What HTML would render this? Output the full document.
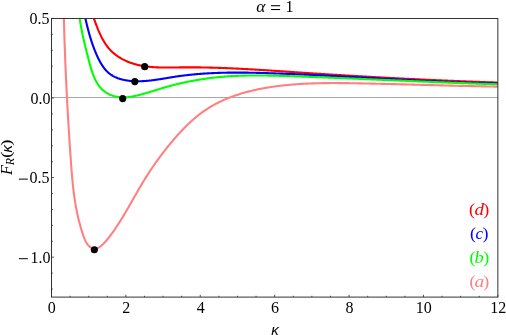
<!DOCTYPE html>
<html><head><meta charset="utf-8"><title>plot</title>
<style>
html,body{margin:0;padding:0;background:#fff;overflow:hidden;}
svg{display:block;will-change:transform;}
text{font-family:"Liberation Serif",serif;font-size:16px;fill:#000;}
</style></head><body>
<svg width="506" height="335" viewBox="0 0 506 335">
<rect width="506" height="335" fill="#fff"/>
<line x1="51.5" y1="97.5" x2="497.85" y2="97.5" stroke="#a8a8a8" stroke-width="1"/>
<clipPath id="cp"><rect x="51.5" y="18.5" width="446.35" height="278.6"/></clipPath>
<g clip-path="url(#cp)" fill="none" stroke-width="2.1" stroke-linejoin="round">
<path d="M90.28,8.02 L90.47,8.54 L90.65,9.06 L90.84,9.58 L91.02,10.11 L91.20,10.63 L91.39,11.15 L91.57,11.68 L91.75,12.20 L91.94,12.73 L92.12,13.25 L92.30,13.78 L92.48,14.31 L92.66,14.84 L92.85,15.36 L93.03,15.89 L93.21,16.42 L93.40,16.95 L93.58,17.48 L93.76,18.01 L93.95,18.53 L94.13,19.06 L94.32,19.59 L94.51,20.12 L94.69,20.65 L94.88,21.18 L95.07,21.71 L95.26,22.23 L95.45,22.76 L95.65,23.29 L95.84,23.81 L96.04,24.34 L96.23,24.86 L96.43,25.39 L96.63,25.91 L96.83,26.44 L97.04,26.96 L97.24,27.48 L97.45,28.00 L97.66,28.52 L97.87,29.04 L98.08,29.56 L98.30,30.07 L98.51,30.59 L98.73,31.10 L98.96,31.62 L99.18,32.13 L99.41,32.64 L99.64,33.15 L99.87,33.66 L100.10,34.16 L100.34,34.67 L100.58,35.17 L100.82,35.67 L101.07,36.17 L101.32,36.67 L101.57,37.16 L101.82,37.66 L102.08,38.15 L102.35,38.64 L102.61,39.13 L102.88,39.62 L103.15,40.10 L103.43,40.58 L103.71,41.06 L103.99,41.54 L104.28,42.02 L104.57,42.49 L104.86,42.96 L105.16,43.43 L105.47,43.89 L105.77,44.35 L106.09,44.81 L106.41,45.27 L106.73,45.72 L107.06,46.17 L107.39,46.61 L107.73,47.05 L108.08,47.49 L108.43,47.92 L108.78,48.35 L109.15,48.77 L109.51,49.19 L109.89,49.60 L110.27,50.01 L110.66,50.42 L111.06,50.82 L111.46,51.21 L111.86,51.60 L112.28,51.98 L112.69,52.36 L113.12,52.74 L113.55,53.11 L113.98,53.47 L114.42,53.83 L114.86,54.19 L115.31,54.53 L115.76,54.88 L116.22,55.22 L116.67,55.55 L117.14,55.88 L117.60,56.20 L118.07,56.52 L118.55,56.83 L119.02,57.14 L119.50,57.44 L119.98,57.73 L120.46,58.02 L120.95,58.31 L121.44,58.59 L121.92,58.86 L122.41,59.13 L122.91,59.39 L123.40,59.65 L123.89,59.90 L124.39,60.15 L124.89,60.39 L125.39,60.63 L125.89,60.86 L126.39,61.09 L126.89,61.31 L127.40,61.53 L127.90,61.74 L128.41,61.94 L128.92,62.15 L129.43,62.34 L129.94,62.53 L130.45,62.72 L130.96,62.91 L131.48,63.08 L132.00,63.26 L132.51,63.43 L133.03,63.59 L133.55,63.75 L134.07,63.91 L134.59,64.06 L135.12,64.21 L135.64,64.35 L136.17,64.49 L136.69,64.63 L137.22,64.76 L137.75,64.89 L138.28,65.02 L138.81,65.14 L139.34,65.25 L139.87,65.37 L140.41,65.48 L140.94,65.58 L141.48,65.69 L142.01,65.78 L142.55,65.88 L143.09,65.97 L143.63,66.06 L144.17,66.15 L144.71,66.23 L145.25,66.31 L145.80,66.39 L146.34,66.46 L146.88,66.53 L147.43,66.60 L147.98,66.66 L148.52,66.72 L149.07,66.78 L149.62,66.84 L150.17,66.89 L150.72,66.95 L151.27,66.99 L151.82,67.04 L152.37,67.09 L152.92,67.13 L153.48,67.17 L154.03,67.20 L154.58,67.24 L155.14,67.27 L155.70,67.30 L156.25,67.33 L156.81,67.36 L157.37,67.38 L157.92,67.40 L158.48,67.42 L159.04,67.44 L159.60,67.46 L160.16,67.48 L160.72,67.49 L161.28,67.50 L161.84,67.52 L162.40,67.52 L162.96,67.53 L163.52,67.54 L164.09,67.55 L164.65,67.55 L165.21,67.55 L165.78,67.56 L166.34,67.56 L166.90,67.56 L167.47,67.56 L168.03,67.56 L168.60,67.55 L169.16,67.55 L169.73,67.55 L170.29,67.54 L170.86,67.54 L171.42,67.53 L171.99,67.52 L172.55,67.52 L173.12,67.51 L173.69,67.50 L174.25,67.49 L174.82,67.49 L175.39,67.48 L175.95,67.47 L176.52,67.46 L177.08,67.45 L177.65,67.45 L178.22,67.44 L178.78,67.43 L179.35,67.42 L179.92,67.41 L180.48,67.41 L181.05,67.40 L181.61,67.39 L182.18,67.39 L182.75,67.38 L183.31,67.37 L183.88,67.37 L184.44,67.37 L185.01,67.36 L185.57,67.36 L186.14,67.35 L186.70,67.35 L187.27,67.35 L187.83,67.35 L188.40,67.35 L188.96,67.35 L189.53,67.35 L190.09,67.35 L190.65,67.35 L191.22,67.35 L191.78,67.35 L192.35,67.35 L192.91,67.35 L193.47,67.35 L194.04,67.36 L194.60,67.36 L195.16,67.36 L195.73,67.37 L196.29,67.37 L196.85,67.38 L197.42,67.38 L197.98,67.39 L198.54,67.39 L199.10,67.40 L199.67,67.41 L200.23,67.41 L200.79,67.42 L201.35,67.43 L201.91,67.44 L202.48,67.45 L203.04,67.46 L203.60,67.47 L204.16,67.48 L204.72,67.49 L205.29,67.50 L205.85,67.51 L206.41,67.52 L206.97,67.53 L207.53,67.54 L208.09,67.55 L208.65,67.57 L209.21,67.58 L209.77,67.59 L210.34,67.61 L210.90,67.62 L211.46,67.63 L212.02,67.65 L212.58,67.66 L213.14,67.68 L213.70,67.70 L214.26,67.71 L214.82,67.73 L215.38,67.74 L215.94,67.76 L216.50,67.78 L217.06,67.80 L217.62,67.81 L218.18,67.83 L218.74,67.85 L219.30,67.87 L219.86,67.89 L220.42,67.91 L220.98,67.93 L221.54,67.95 L222.09,67.97 L222.65,67.99 L223.21,68.01 L223.77,68.03 L224.33,68.05 L224.89,68.07 L225.45,68.09 L226.01,68.12 L226.57,68.14 L227.12,68.16 L227.68,68.18 L228.24,68.21 L228.80,68.23 L229.36,68.26 L229.92,68.28 L230.47,68.30 L231.03,68.33 L231.59,68.35 L232.15,68.38 L232.71,68.40 L233.27,68.43 L233.82,68.45 L234.38,68.48 L234.94,68.51 L235.50,68.53 L236.05,68.56 L236.61,68.59 L237.17,68.61 L237.73,68.64 L238.28,68.67 L238.84,68.70 L239.40,68.72 L239.96,68.75 L240.51,68.78 L241.07,68.81 L241.63,68.84 L242.19,68.87 L242.74,68.90 L243.30,68.93 L243.86,68.96 L244.41,68.99 L244.97,69.02 L245.53,69.05 L246.09,69.08 L246.64,69.11 L247.20,69.14 L247.76,69.17 L248.31,69.20 L248.87,69.23 L249.43,69.26 L249.98,69.29 L250.54,69.33 L251.10,69.36 L251.65,69.39 L252.21,69.42 L252.77,69.46 L253.32,69.49 L253.88,69.52 L254.44,69.55 L254.99,69.59 L255.55,69.62 L256.10,69.65 L256.66,69.69 L257.22,69.72 L257.77,69.76 L258.33,69.79 L258.89,69.82 L259.44,69.86 L260.00,69.89 L260.55,69.93 L261.11,69.96 L261.67,70.00 L262.22,70.03 L262.78,70.07 L263.33,70.10 L263.89,70.14 L264.45,70.17 L265.00,70.21 L265.56,70.24 L266.12,70.28 L266.67,70.31 L267.23,70.35 L267.78,70.39 L268.34,70.42 L268.89,70.46 L269.45,70.49 L270.01,70.53 L270.56,70.57 L271.12,70.60 L271.67,70.64 L272.23,70.68 L272.79,70.71 L273.34,70.75 L273.90,70.79 L274.45,70.82 L275.01,70.86 L275.57,70.90 L276.12,70.93 L276.68,70.97 L277.23,71.01 L277.79,71.05 L278.35,71.08 L278.90,71.12 L279.46,71.16 L280.01,71.20 L280.57,71.23 L281.12,71.27 L281.68,71.31 L282.24,71.35 L282.79,71.38 L283.35,71.42 L283.90,71.46 L284.46,71.50 L285.02,71.53 L285.57,71.57 L286.13,71.61 L286.68,71.65 L287.24,71.69 L287.80,71.72 L288.35,71.76 L288.91,71.80 L289.46,71.84 L290.02,71.87 L290.58,71.91 L291.13,71.95 L291.69,71.99 L292.25,72.03 L292.80,72.06 L293.36,72.10 L293.91,72.14 L294.47,72.18 L295.03,72.22 L295.58,72.25 L296.14,72.29 L296.70,72.33 L297.25,72.37 L297.81,72.40 L298.36,72.44 L298.92,72.48 L299.48,72.52 L300.03,72.55 L300.59,72.59 L301.15,72.63 L301.70,72.67 L302.26,72.70 L302.82,72.74 L303.37,72.78 L303.93,72.82 L304.49,72.85 L305.04,72.89 L305.60,72.93 L306.16,72.96 L306.71,73.00 L307.27,73.04 L307.83,73.07 L308.39,73.11 L308.94,73.15 L309.50,73.18 L310.06,73.22 L310.61,73.26 L311.17,73.29 L311.73,73.33 L312.29,73.37 L312.84,73.40 L313.40,73.44 L313.96,73.48 L314.51,73.51 L315.07,73.55 L315.63,73.58 L316.19,73.62 L316.74,73.66 L317.30,73.69 L317.86,73.73 L318.42,73.76 L318.97,73.80 L319.53,73.84 L320.09,73.87 L320.65,73.91 L321.20,73.94 L321.76,73.98 L322.32,74.01 L322.88,74.05 L323.43,74.09 L323.99,74.12 L324.55,74.16 L325.11,74.19 L325.67,74.23 L326.22,74.26 L326.78,74.30 L327.34,74.33 L327.90,74.37 L328.46,74.40 L329.01,74.44 L329.57,74.47 L330.13,74.51 L330.69,74.54 L331.25,74.58 L331.80,74.61 L332.36,74.65 L332.92,74.68 L333.48,74.71 L334.04,74.75 L334.59,74.78 L335.15,74.82 L335.71,74.85 L336.27,74.89 L336.83,74.92 L337.39,74.96 L337.94,74.99 L338.50,75.02 L339.06,75.06 L339.62,75.09 L340.18,75.13 L340.74,75.16 L341.29,75.19 L341.85,75.23 L342.41,75.26 L342.97,75.29 L343.53,75.33 L344.09,75.36 L344.64,75.39 L345.20,75.43 L345.76,75.46 L346.32,75.50 L346.88,75.53 L347.44,75.56 L348.00,75.59 L348.55,75.63 L349.11,75.66 L349.67,75.69 L350.23,75.73 L350.79,75.76 L351.35,75.79 L351.91,75.83 L352.47,75.86 L353.02,75.89 L353.58,75.92 L354.14,75.96 L354.70,75.99 L355.26,76.02 L355.82,76.05 L356.38,76.09 L356.94,76.12 L357.50,76.15 L358.05,76.18 L358.61,76.22 L359.17,76.25 L359.73,76.28 L360.29,76.31 L360.85,76.34 L361.41,76.38 L361.97,76.41 L362.53,76.44 L363.09,76.47 L363.64,76.50 L364.20,76.54 L364.76,76.57 L365.32,76.60 L365.88,76.63 L366.44,76.66 L367.00,76.69 L367.56,76.73 L368.12,76.76 L368.68,76.79 L369.24,76.82 L369.79,76.85 L370.35,76.88 L370.91,76.91 L371.47,76.94 L372.03,76.97 L372.59,77.01 L373.15,77.04 L373.71,77.07 L374.27,77.10 L374.83,77.13 L375.39,77.16 L375.95,77.19 L376.51,77.22 L377.06,77.25 L377.62,77.28 L378.18,77.31 L378.74,77.34 L379.30,77.37 L379.86,77.40 L380.42,77.43 L380.98,77.46 L381.54,77.49 L382.10,77.52 L382.66,77.55 L383.22,77.58 L383.78,77.61 L384.34,77.64 L384.89,77.67 L385.45,77.70 L386.01,77.73 L386.57,77.76 L387.13,77.79 L387.69,77.82 L388.25,77.85 L388.81,77.88 L389.37,77.91 L389.93,77.94 L390.49,77.97 L391.05,78.00 L391.61,78.03 L392.17,78.06 L392.73,78.08 L393.29,78.11 L393.85,78.14 L394.40,78.17 L394.96,78.20 L395.52,78.23 L396.08,78.26 L396.64,78.29 L397.20,78.31 L397.76,78.34 L398.32,78.37 L398.88,78.40 L399.44,78.43 L400.00,78.46 L400.56,78.48 L401.12,78.51 L401.68,78.54 L402.24,78.57 L402.80,78.60 L403.36,78.63 L403.91,78.65 L404.47,78.68 L405.03,78.71 L405.59,78.74 L406.15,78.76 L406.71,78.79 L407.27,78.82 L407.83,78.85 L408.39,78.88 L408.95,78.90 L409.51,78.93 L410.07,78.96 L410.63,78.98 L411.19,79.01 L411.75,79.04 L412.31,79.07 L412.87,79.09 L413.42,79.12 L413.98,79.15 L414.54,79.17 L415.10,79.20 L415.66,79.23 L416.22,79.25 L416.78,79.28 L417.34,79.31 L417.90,79.33 L418.46,79.36 L419.02,79.39 L419.58,79.41 L420.14,79.44 L420.70,79.47 L421.26,79.49 L421.81,79.52 L422.37,79.55 L422.93,79.57 L423.49,79.60 L424.05,79.62 L424.61,79.65 L425.17,79.68 L425.73,79.70 L426.29,79.73 L426.85,79.75 L427.41,79.78 L427.97,79.80 L428.53,79.83 L429.08,79.86 L429.64,79.88 L430.20,79.91 L430.76,79.93 L431.32,79.96 L431.88,79.98 L432.44,80.01 L433.00,80.03 L433.56,80.06 L434.12,80.08 L434.68,80.11 L435.23,80.13 L435.79,80.16 L436.35,80.18 L436.91,80.21 L437.47,80.23 L438.03,80.26 L438.59,80.28 L439.15,80.30 L439.71,80.33 L440.27,80.35 L440.82,80.38 L441.38,80.40 L441.94,80.43 L442.50,80.45 L443.06,80.47 L443.62,80.50 L444.18,80.52 L444.74,80.55 L445.30,80.57 L445.85,80.59 L446.41,80.62 L446.97,80.64 L447.53,80.67 L448.09,80.69 L448.65,80.71 L449.21,80.74 L449.77,80.76 L450.32,80.78 L450.88,80.81 L451.44,80.83 L452.00,80.85 L452.56,80.88 L453.12,80.90 L453.68,80.92 L454.23,80.95 L454.79,80.97 L455.35,80.99 L455.91,81.01 L456.47,81.04 L457.03,81.06 L457.59,81.08 L458.14,81.10 L458.70,81.13 L459.26,81.15 L459.82,81.17 L460.38,81.19 L460.94,81.22 L461.49,81.24 L462.05,81.26 L462.61,81.28 L463.17,81.31 L463.73,81.33 L464.29,81.35 L464.84,81.37 L465.40,81.39 L465.96,81.41 L466.52,81.44 L467.08,81.46 L467.63,81.48 L468.19,81.50 L468.75,81.52 L469.31,81.54 L469.87,81.57 L470.43,81.59 L470.98,81.61 L471.54,81.63 L472.10,81.65 L472.66,81.67 L473.21,81.69 L473.77,81.71 L474.33,81.73 L474.89,81.76 L475.45,81.78 L476.00,81.80 L476.56,81.82 L477.12,81.84 L477.68,81.86 L478.23,81.88 L478.79,81.90 L479.35,81.92 L479.91,81.94 L480.46,81.96 L481.02,81.98 L481.58,82.00 L482.14,82.02 L482.69,82.04 L483.25,82.06 L483.81,82.08 L484.37,82.10 L484.92,82.12 L485.48,82.14 L486.04,82.16 L486.60,82.18 L487.15,82.20 L487.71,82.22 L488.27,82.24 L488.82,82.26 L489.38,82.28 L489.94,82.30 L490.50,82.32 L491.05,82.34 L491.61,82.35 L492.17,82.37 L492.72,82.39 L493.28,82.41 L493.84,82.43 L494.39,82.45 L494.95,82.47 L495.51,82.49 L496.06,82.51 L496.62,82.52 L497.18,82.54 L497.73,82.56 L498.29,82.58 L498.85,82.60 L499.40,82.62 L499.96,82.63 L500.52,82.65 L501.07,82.67 L501.63,82.69 L502.19,82.71 L502.74,82.73 L503.30,82.74 L503.86,82.76 L504.41,82.78 L504.97,82.80" stroke="#ff0000"/>
<path d="M83.10,8.05 L83.22,8.63 L83.35,9.21 L83.48,9.78 L83.60,10.36 L83.73,10.93 L83.85,11.51 L83.98,12.08 L84.10,12.65 L84.23,13.23 L84.36,13.80 L84.48,14.37 L84.61,14.94 L84.74,15.52 L84.86,16.09 L84.99,16.66 L85.12,17.23 L85.25,17.80 L85.38,18.37 L85.51,18.94 L85.64,19.51 L85.77,20.08 L85.90,20.65 L86.03,21.22 L86.16,21.78 L86.30,22.35 L86.43,22.92 L86.57,23.49 L86.70,24.05 L86.84,24.62 L86.98,25.18 L87.11,25.75 L87.25,26.32 L87.40,26.88 L87.54,27.45 L87.68,28.01 L87.82,28.57 L87.97,29.14 L88.12,29.70 L88.26,30.27 L88.41,30.83 L88.56,31.39 L88.72,31.95 L88.87,32.52 L89.03,33.08 L89.18,33.64 L89.34,34.20 L89.50,34.76 L89.66,35.32 L89.82,35.88 L89.99,36.44 L90.15,37.00 L90.32,37.56 L90.49,38.12 L90.66,38.68 L90.84,39.24 L91.01,39.80 L91.19,40.36 L91.37,40.92 L91.55,41.47 L91.74,42.03 L91.92,42.59 L92.11,43.15 L92.30,43.70 L92.49,44.26 L92.69,44.82 L92.88,45.37 L93.08,45.93 L93.29,46.48 L93.49,47.04 L93.70,47.59 L93.91,48.15 L94.12,48.71 L94.33,49.26 L94.55,49.81 L94.77,50.37 L94.99,50.92 L95.21,51.48 L95.44,52.03 L95.67,52.58 L95.91,53.14 L96.14,53.69 L96.38,54.24 L96.62,54.80 L96.87,55.35 L97.12,55.90 L97.37,56.45 L97.62,57.00 L97.88,57.55 L98.14,58.10 L98.41,58.64 L98.68,59.18 L98.95,59.72 L99.23,60.26 L99.51,60.80 L99.80,61.33 L100.09,61.85 L100.38,62.38 L100.68,62.90 L100.98,63.42 L101.29,63.93 L101.60,64.44 L101.92,64.94 L102.24,65.44 L102.57,65.93 L102.91,66.42 L103.24,66.90 L103.59,67.37 L103.94,67.84 L104.29,68.30 L104.65,68.76 L105.02,69.20 L105.39,69.64 L105.77,70.08 L106.16,70.50 L106.55,70.92 L106.95,71.33 L107.35,71.73 L107.76,72.12 L108.18,72.50 L108.60,72.88 L109.04,73.24 L109.47,73.59 L109.92,73.94 L110.37,74.27 L110.83,74.60 L111.29,74.91 L111.77,75.22 L112.24,75.51 L112.73,75.80 L113.21,76.08 L113.71,76.35 L114.21,76.61 L114.72,76.87 L115.23,77.11 L115.74,77.35 L116.26,77.57 L116.79,77.79 L117.32,78.00 L117.85,78.21 L118.39,78.40 L118.93,78.59 L119.48,78.77 L120.03,78.95 L120.59,79.11 L121.14,79.27 L121.70,79.42 L122.27,79.57 L122.83,79.70 L123.40,79.84 L123.98,79.96 L124.55,80.08 L125.13,80.19 L125.71,80.29 L126.29,80.39 L126.87,80.49 L127.46,80.57 L128.04,80.66 L128.63,80.73 L129.22,80.80 L129.81,80.87 L130.40,80.93 L131.00,80.98 L131.59,81.03 L132.18,81.07 L132.78,81.11 L133.37,81.15 L133.96,81.18 L134.56,81.20 L135.15,81.22 L135.74,81.24 L136.33,81.25 L136.93,81.26 L137.52,81.27 L138.11,81.27 L138.70,81.26 L139.29,81.26 L139.88,81.24 L140.47,81.23 L141.06,81.21 L141.65,81.19 L142.24,81.16 L142.83,81.14 L143.42,81.10 L144.01,81.07 L144.59,81.03 L145.18,80.99 L145.77,80.95 L146.36,80.90 L146.94,80.85 L147.53,80.80 L148.12,80.74 L148.70,80.68 L149.29,80.62 L149.88,80.56 L150.46,80.50 L151.05,80.43 L151.63,80.36 L152.22,80.29 L152.80,80.21 L153.39,80.14 L153.97,80.06 L154.56,79.98 L155.14,79.90 L155.72,79.82 L156.31,79.74 L156.89,79.65 L157.48,79.57 L158.06,79.48 L158.64,79.39 L159.23,79.30 L159.81,79.21 L160.39,79.12 L160.98,79.02 L161.56,78.93 L162.14,78.84 L162.73,78.74 L163.31,78.65 L163.89,78.55 L164.47,78.45 L165.06,78.36 L165.64,78.26 L166.22,78.16 L166.80,78.07 L167.39,77.97 L167.97,77.87 L168.55,77.77 L169.13,77.68 L169.72,77.58 L170.30,77.48 L170.88,77.39 L171.46,77.29 L172.05,77.20 L172.63,77.11 L173.21,77.01 L173.80,76.92 L174.38,76.83 L174.96,76.74 L175.54,76.65 L176.13,76.56 L176.71,76.48 L177.29,76.39 L177.88,76.31 L178.46,76.22 L179.04,76.14 L179.63,76.06 L180.21,75.98 L180.79,75.90 L181.38,75.82 L181.96,75.75 L182.55,75.67 L183.13,75.60 L183.71,75.52 L184.30,75.45 L184.88,75.38 L185.47,75.31 L186.05,75.24 L186.63,75.17 L187.22,75.11 L187.80,75.04 L188.39,74.98 L188.97,74.91 L189.56,74.85 L190.14,74.79 L190.73,74.73 L191.31,74.67 L191.90,74.61 L192.48,74.55 L193.07,74.49 L193.65,74.44 L194.24,74.38 L194.82,74.33 L195.41,74.28 L195.99,74.22 L196.58,74.17 L197.16,74.12 L197.75,74.07 L198.33,74.03 L198.92,73.98 L199.50,73.93 L200.09,73.89 L200.68,73.84 L201.26,73.80 L201.85,73.75 L202.43,73.71 L203.02,73.67 L203.60,73.63 L204.19,73.59 L204.78,73.55 L205.36,73.52 L205.95,73.48 L206.53,73.44 L207.12,73.41 L207.71,73.37 L208.29,73.34 L208.88,73.31 L209.47,73.28 L210.05,73.25 L210.64,73.22 L211.23,73.19 L211.81,73.16 L212.40,73.13 L212.99,73.10 L213.57,73.08 L214.16,73.05 L214.75,73.03 L215.33,73.00 L215.92,72.98 L216.51,72.96 L217.09,72.94 L217.68,72.91 L218.27,72.89 L218.85,72.87 L219.44,72.86 L220.03,72.84 L220.62,72.82 L221.20,72.80 L221.79,72.79 L222.38,72.77 L222.96,72.76 L223.55,72.74 L224.14,72.73 L224.73,72.72 L225.31,72.70 L225.90,72.69 L226.49,72.68 L227.08,72.67 L227.66,72.66 L228.25,72.65 L228.84,72.64 L229.43,72.64 L230.01,72.63 L230.60,72.62 L231.19,72.62 L231.78,72.61 L232.36,72.61 L232.95,72.60 L233.54,72.60 L234.13,72.60 L234.72,72.59 L235.30,72.59 L235.89,72.59 L236.48,72.59 L237.07,72.59 L237.66,72.59 L238.24,72.59 L238.83,72.59 L239.42,72.59 L240.01,72.59 L240.59,72.60 L241.18,72.60 L241.77,72.60 L242.36,72.61 L242.95,72.61 L243.54,72.62 L244.12,72.62 L244.71,72.63 L245.30,72.64 L245.89,72.64 L246.48,72.65 L247.06,72.66 L247.65,72.67 L248.24,72.67 L248.83,72.68 L249.42,72.69 L250.00,72.70 L250.59,72.71 L251.18,72.72 L251.77,72.73 L252.36,72.74 L252.95,72.76 L253.53,72.77 L254.12,72.78 L254.71,72.79 L255.30,72.81 L255.89,72.82 L256.48,72.83 L257.06,72.85 L257.65,72.86 L258.24,72.87 L258.83,72.89 L259.42,72.90 L260.01,72.92 L260.59,72.94 L261.18,72.95 L261.77,72.97 L262.36,72.98 L262.95,73.00 L263.54,73.02 L264.12,73.04 L264.71,73.05 L265.30,73.07 L265.89,73.09 L266.48,73.11 L267.06,73.13 L267.65,73.14 L268.24,73.16 L268.83,73.18 L269.42,73.20 L270.01,73.22 L270.59,73.24 L271.18,73.26 L271.77,73.28 L272.36,73.30 L272.95,73.32 L273.53,73.34 L274.12,73.36 L274.71,73.38 L275.30,73.40 L275.89,73.43 L276.48,73.45 L277.06,73.47 L277.65,73.49 L278.24,73.51 L278.83,73.53 L279.42,73.55 L280.00,73.58 L280.59,73.60 L281.18,73.62 L281.77,73.64 L282.36,73.67 L282.94,73.69 L283.53,73.71 L284.12,73.73 L284.71,73.76 L285.30,73.78 L285.88,73.80 L286.47,73.83 L287.06,73.85 L287.65,73.87 L288.23,73.90 L288.82,73.92 L289.41,73.95 L290.00,73.97 L290.59,73.99 L291.17,74.02 L291.76,74.04 L292.35,74.07 L292.94,74.09 L293.52,74.12 L294.11,74.14 L294.70,74.17 L295.29,74.19 L295.88,74.22 L296.46,74.24 L297.05,74.27 L297.64,74.29 L298.23,74.32 L298.81,74.34 L299.40,74.37 L299.99,74.40 L300.58,74.42 L301.16,74.45 L301.75,74.47 L302.34,74.50 L302.93,74.53 L303.52,74.55 L304.10,74.58 L304.69,74.61 L305.28,74.63 L305.87,74.66 L306.45,74.69 L307.04,74.72 L307.63,74.74 L308.22,74.77 L308.80,74.80 L309.39,74.83 L309.98,74.85 L310.57,74.88 L311.15,74.91 L311.74,74.94 L312.33,74.96 L312.92,74.99 L313.50,75.02 L314.09,75.05 L314.68,75.08 L315.27,75.10 L315.85,75.13 L316.44,75.16 L317.03,75.19 L317.61,75.22 L318.20,75.25 L318.79,75.28 L319.38,75.31 L319.96,75.33 L320.55,75.36 L321.14,75.39 L321.73,75.42 L322.31,75.45 L322.90,75.48 L323.49,75.51 L324.08,75.54 L324.66,75.57 L325.25,75.60 L325.84,75.63 L326.42,75.66 L327.01,75.69 L327.60,75.72 L328.19,75.75 L328.77,75.78 L329.36,75.81 L329.95,75.84 L330.54,75.87 L331.12,75.90 L331.71,75.93 L332.30,75.96 L332.88,75.99 L333.47,76.02 L334.06,76.05 L334.65,76.08 L335.23,76.11 L335.82,76.14 L336.41,76.17 L337.00,76.20 L337.58,76.23 L338.17,76.26 L338.76,76.30 L339.34,76.33 L339.93,76.36 L340.52,76.39 L341.11,76.42 L341.69,76.45 L342.28,76.48 L342.87,76.51 L343.45,76.54 L344.04,76.58 L344.63,76.61 L345.22,76.64 L345.80,76.67 L346.39,76.70 L346.98,76.73 L347.56,76.76 L348.15,76.80 L348.74,76.83 L349.33,76.86 L349.91,76.89 L350.50,76.92 L351.09,76.95 L351.67,76.98 L352.26,77.02 L352.85,77.05 L353.44,77.08 L354.02,77.11 L354.61,77.14 L355.20,77.18 L355.78,77.21 L356.37,77.24 L356.96,77.27 L357.54,77.30 L358.13,77.33 L358.72,77.37 L359.31,77.40 L359.89,77.43 L360.48,77.46 L361.07,77.49 L361.65,77.53 L362.24,77.56 L362.83,77.59 L363.42,77.62 L364.00,77.65 L364.59,77.69 L365.18,77.72 L365.76,77.75 L366.35,77.78 L366.94,77.82 L367.52,77.85 L368.11,77.88 L368.70,77.91 L369.29,77.94 L369.87,77.98 L370.46,78.01 L371.05,78.04 L371.63,78.07 L372.22,78.10 L372.81,78.14 L373.39,78.17 L373.98,78.20 L374.57,78.23 L375.16,78.26 L375.74,78.30 L376.33,78.33 L376.92,78.36 L377.50,78.39 L378.09,78.42 L378.68,78.46 L379.27,78.49 L379.85,78.52 L380.44,78.55 L381.03,78.58 L381.61,78.62 L382.20,78.65 L382.79,78.68 L383.37,78.71 L383.96,78.74 L384.55,78.78 L385.14,78.81 L385.72,78.84 L386.31,78.87 L386.90,78.90 L387.48,78.93 L388.07,78.97 L388.66,79.00 L389.24,79.03 L389.83,79.06 L390.42,79.09 L391.01,79.12 L391.59,79.16 L392.18,79.19 L392.77,79.22 L393.35,79.25 L393.94,79.28 L394.53,79.31 L395.12,79.34 L395.70,79.37 L396.29,79.41 L396.88,79.44 L397.46,79.47 L398.05,79.50 L398.64,79.53 L399.22,79.56 L399.81,79.59 L400.40,79.62 L400.99,79.65 L401.57,79.69 L402.16,79.72 L402.75,79.75 L403.33,79.78 L403.92,79.81 L404.51,79.84 L405.10,79.87 L405.68,79.90 L406.27,79.93 L406.86,79.96 L407.44,79.99 L408.03,80.02 L408.62,80.05 L409.21,80.08 L409.79,80.11 L410.38,80.14 L410.97,80.17 L411.55,80.20 L412.14,80.23 L412.73,80.26 L413.32,80.29 L413.90,80.32 L414.49,80.35 L415.08,80.38 L415.66,80.41 L416.25,80.44 L416.84,80.47 L417.43,80.50 L418.01,80.53 L418.60,80.56 L419.19,80.58 L419.77,80.61 L420.36,80.64 L420.95,80.67 L421.54,80.70 L422.12,80.73 L422.71,80.76 L423.30,80.79 L423.89,80.81 L424.47,80.84 L425.06,80.87 L425.65,80.90 L426.23,80.93 L426.82,80.96 L427.41,80.98 L428.00,81.01 L428.58,81.04 L429.17,81.07 L429.76,81.09 L430.35,81.12 L430.93,81.15 L431.52,81.18 L432.11,81.20 L432.69,81.23 L433.28,81.26 L433.87,81.28 L434.46,81.31 L435.04,81.34 L435.63,81.36 L436.22,81.39 L436.81,81.42 L437.39,81.44 L437.98,81.47 L438.57,81.50 L439.16,81.52 L439.74,81.55 L440.33,81.57 L440.92,81.60 L441.51,81.63 L442.09,81.65 L442.68,81.68 L443.27,81.70 L443.86,81.73 L444.44,81.75 L445.03,81.78 L445.62,81.80 L446.21,81.83 L446.79,81.85 L447.38,81.88 L447.97,81.90 L448.56,81.93 L449.14,81.95 L449.73,81.97 L450.32,82.00 L450.91,82.02 L451.49,82.05 L452.08,82.07 L452.67,82.09 L453.26,82.12 L453.84,82.14 L454.43,82.16 L455.02,82.19 L455.61,82.21 L456.19,82.23 L456.78,82.25 L457.37,82.28 L457.96,82.30 L458.55,82.32 L459.13,82.34 L459.72,82.36 L460.31,82.39 L460.90,82.41 L461.48,82.43 L462.07,82.45 L462.66,82.47 L463.25,82.49 L463.84,82.52 L464.42,82.54 L465.01,82.56 L465.60,82.58 L466.19,82.60 L466.77,82.62 L467.36,82.64 L467.95,82.66 L468.54,82.68 L469.13,82.70 L469.71,82.72 L470.30,82.74 L470.89,82.76 L471.48,82.78 L472.07,82.79 L472.65,82.81 L473.24,82.83 L473.83,82.85 L474.42,82.87 L475.01,82.89 L475.59,82.91 L476.18,82.92 L476.77,82.94 L477.36,82.96 L477.95,82.98 L478.53,82.99 L479.12,83.01 L479.71,83.03 L480.30,83.04 L480.89,83.06 L481.47,83.08 L482.06,83.09 L482.65,83.11 L483.24,83.13 L483.83,83.14 L484.42,83.16 L485.00,83.17 L485.59,83.19 L486.18,83.20 L486.77,83.22 L487.36,83.23 L487.94,83.25 L488.53,83.26 L489.12,83.28 L489.71,83.29 L490.30,83.31 L490.89,83.32 L491.47,83.33 L492.06,83.35 L492.65,83.36 L493.24,83.37 L493.83,83.39 L494.42,83.40 L495.01,83.41 L495.59,83.42 L496.18,83.43 L496.77,83.45 L497.36,83.46 L497.95,83.47 L498.54,83.48 L499.12,83.49 L499.71,83.50 L500.30,83.51 L500.89,83.52 L501.48,83.54 L502.07,83.55 L502.66,83.56 L503.25,83.57 L503.83,83.58 L504.42,83.58 L505.01,83.59" stroke="#0000ff"/>
<path d="M78.46,7.87 L78.52,8.52 L78.58,9.17 L78.65,9.82 L78.71,10.46 L78.78,11.10 L78.85,11.74 L78.92,12.38 L78.99,13.01 L79.07,13.65 L79.15,14.28 L79.22,14.91 L79.30,15.53 L79.38,16.16 L79.47,16.78 L79.55,17.40 L79.64,18.02 L79.72,18.64 L79.81,19.25 L79.90,19.87 L79.99,20.48 L80.09,21.09 L80.18,21.70 L80.28,22.30 L80.38,22.91 L80.48,23.52 L80.58,24.12 L80.68,24.72 L80.78,25.32 L80.89,25.92 L81.00,26.52 L81.10,27.12 L81.21,27.72 L81.32,28.31 L81.43,28.91 L81.55,29.50 L81.66,30.09 L81.78,30.69 L81.89,31.28 L82.01,31.87 L82.13,32.46 L82.25,33.05 L82.37,33.64 L82.50,34.23 L82.62,34.82 L82.75,35.41 L82.87,35.99 L83.00,36.58 L83.13,37.17 L83.26,37.76 L83.39,38.34 L83.52,38.93 L83.65,39.52 L83.79,40.11 L83.92,40.69 L84.06,41.28 L84.20,41.87 L84.33,42.46 L84.47,43.05 L84.61,43.64 L84.75,44.23 L84.89,44.82 L85.04,45.41 L85.18,46.00 L85.32,46.59 L85.47,47.18 L85.62,47.77 L85.76,48.37 L85.91,48.96 L86.06,49.56 L86.21,50.16 L86.36,50.75 L86.51,51.35 L86.66,51.95 L86.81,52.55 L86.96,53.15 L87.12,53.76 L87.27,54.36 L87.43,54.97 L87.58,55.58 L87.74,56.18 L87.89,56.79 L88.05,57.41 L88.21,58.02 L88.37,58.64 L88.52,59.25 L88.68,59.87 L88.84,60.49 L89.01,61.11 L89.17,61.73 L89.33,62.36 L89.50,62.98 L89.66,63.60 L89.83,64.22 L90.00,64.85 L90.18,65.47 L90.35,66.09 L90.53,66.72 L90.71,67.34 L90.89,67.96 L91.08,68.58 L91.27,69.19 L91.46,69.81 L91.65,70.42 L91.85,71.03 L92.05,71.64 L92.26,72.25 L92.47,72.85 L92.68,73.45 L92.90,74.05 L93.13,74.65 L93.35,75.24 L93.59,75.82 L93.82,76.41 L94.07,76.99 L94.31,77.56 L94.57,78.13 L94.83,78.70 L95.09,79.26 L95.36,79.81 L95.64,80.36 L95.92,80.91 L96.21,81.44 L96.50,81.98 L96.81,82.50 L97.12,83.02 L97.43,83.54 L97.75,84.04 L98.09,84.54 L98.42,85.03 L98.77,85.52 L99.12,86.00 L99.48,86.47 L99.85,86.93 L100.23,87.38 L100.62,87.82 L101.01,88.26 L101.41,88.69 L101.83,89.11 L102.25,89.51 L102.68,89.91 L103.12,90.30 L103.57,90.68 L104.02,91.05 L104.49,91.42 L104.97,91.77 L105.45,92.11 L105.94,92.44 L106.44,92.76 L106.95,93.07 L107.47,93.37 L107.99,93.66 L108.52,93.94 L109.05,94.21 L109.59,94.46 L110.14,94.71 L110.70,94.95 L111.26,95.18 L111.82,95.39 L112.39,95.60 L112.97,95.80 L113.54,95.98 L114.13,96.15 L114.72,96.32 L115.31,96.47 L115.90,96.61 L116.50,96.74 L117.11,96.86 L117.71,96.97 L118.32,97.06 L118.93,97.15 L119.54,97.22 L120.16,97.29 L120.77,97.34 L121.39,97.38 L122.01,97.41 L122.63,97.43 L123.25,97.43 L123.87,97.43 L124.49,97.41 L125.11,97.39 L125.73,97.35 L126.35,97.31 L126.98,97.25 L127.60,97.19 L128.22,97.12 L128.84,97.04 L129.46,96.96 L130.08,96.87 L130.70,96.77 L131.32,96.67 L131.94,96.56 L132.56,96.45 L133.18,96.33 L133.79,96.21 L134.40,96.08 L135.02,95.95 L135.63,95.82 L136.24,95.68 L136.85,95.55 L137.45,95.40 L138.06,95.26 L138.66,95.11 L139.27,94.96 L139.87,94.81 L140.47,94.66 L141.07,94.50 L141.67,94.34 L142.27,94.18 L142.87,94.02 L143.47,93.85 L144.06,93.69 L144.66,93.52 L145.25,93.35 L145.85,93.18 L146.44,93.00 L147.03,92.83 L147.63,92.65 L148.22,92.48 L148.81,92.30 L149.40,92.12 L149.99,91.94 L150.58,91.76 L151.17,91.58 L151.76,91.39 L152.35,91.21 L152.94,91.03 L153.53,90.84 L154.12,90.66 L154.70,90.48 L155.29,90.29 L155.88,90.11 L156.47,89.93 L157.06,89.74 L157.65,89.56 L158.23,89.38 L158.82,89.20 L159.41,89.01 L160.00,88.83 L160.59,88.65 L161.18,88.47 L161.77,88.30 L162.36,88.12 L162.95,87.94 L163.54,87.77 L164.13,87.60 L164.73,87.43 L165.32,87.25 L165.91,87.09 L166.51,86.92 L167.10,86.75 L167.69,86.58 L168.29,86.42 L168.88,86.26 L169.48,86.10 L170.07,85.93 L170.67,85.78 L171.27,85.62 L171.86,85.46 L172.46,85.30 L173.06,85.15 L173.66,85.00 L174.26,84.85 L174.85,84.69 L175.45,84.55 L176.05,84.40 L176.65,84.25 L177.25,84.10 L177.85,83.96 L178.45,83.82 L179.06,83.68 L179.66,83.53 L180.26,83.40 L180.86,83.26 L181.46,83.12 L182.07,82.98 L182.67,82.85 L183.27,82.72 L183.88,82.58 L184.48,82.45 L185.09,82.32 L185.69,82.20 L186.29,82.07 L186.90,81.94 L187.51,81.82 L188.11,81.70 L188.72,81.57 L189.32,81.45 L189.93,81.33 L190.54,81.22 L191.14,81.10 L191.75,80.98 L192.36,80.87 L192.97,80.75 L193.58,80.64 L194.18,80.53 L194.79,80.42 L195.40,80.31 L196.01,80.21 L196.62,80.10 L197.23,80.00 L197.84,79.89 L198.45,79.79 L199.06,79.69 L199.67,79.59 L200.28,79.49 L200.89,79.40 L201.50,79.30 L202.11,79.21 L202.72,79.11 L203.33,79.02 L203.95,78.93 L204.56,78.84 L205.17,78.75 L205.78,78.66 L206.39,78.58 L207.01,78.49 L207.62,78.41 L208.23,78.33 L208.84,78.25 L209.46,78.17 L210.07,78.09 L210.68,78.01 L211.30,77.94 L211.91,77.86 L212.52,77.79 L213.14,77.72 L213.75,77.65 L214.37,77.58 L214.98,77.51 L215.59,77.44 L216.21,77.37 L216.82,77.31 L217.44,77.25 L218.05,77.18 L218.67,77.12 L219.28,77.06 L219.89,77.01 L220.51,76.95 L221.12,76.89 L221.74,76.84 L222.35,76.78 L222.97,76.73 L223.58,76.68 L224.20,76.63 L224.82,76.58 L225.43,76.54 L226.05,76.49 L226.66,76.44 L227.28,76.40 L227.89,76.36 L228.51,76.32 L229.12,76.28 L229.74,76.24 L230.35,76.20 L230.97,76.16 L231.59,76.13 L232.20,76.09 L232.82,76.06 L233.43,76.03 L234.05,75.99 L234.66,75.96 L235.28,75.93 L235.90,75.91 L236.51,75.88 L237.13,75.85 L237.75,75.83 L238.36,75.80 L238.98,75.78 L239.59,75.76 L240.21,75.73 L240.83,75.71 L241.44,75.69 L242.06,75.68 L242.68,75.66 L243.29,75.64 L243.91,75.63 L244.52,75.61 L245.14,75.60 L245.76,75.58 L246.37,75.57 L246.99,75.56 L247.61,75.55 L248.22,75.54 L248.84,75.53 L249.46,75.52 L250.08,75.51 L250.69,75.51 L251.31,75.50 L251.93,75.49 L252.54,75.49 L253.16,75.49 L253.78,75.48 L254.39,75.48 L255.01,75.48 L255.63,75.48 L256.24,75.48 L256.86,75.48 L257.48,75.48 L258.10,75.48 L258.71,75.48 L259.33,75.48 L259.95,75.49 L260.56,75.49 L261.18,75.50 L261.80,75.50 L262.42,75.51 L263.03,75.51 L263.65,75.52 L264.27,75.53 L264.89,75.54 L265.50,75.54 L266.12,75.55 L266.74,75.56 L267.36,75.57 L267.97,75.58 L268.59,75.59 L269.21,75.60 L269.82,75.62 L270.44,75.63 L271.06,75.64 L271.68,75.65 L272.29,75.67 L272.91,75.68 L273.53,75.70 L274.15,75.71 L274.76,75.72 L275.38,75.74 L276.00,75.76 L276.62,75.77 L277.24,75.79 L277.85,75.80 L278.47,75.82 L279.09,75.84 L279.71,75.86 L280.32,75.87 L280.94,75.89 L281.56,75.91 L282.18,75.93 L282.79,75.95 L283.41,75.97 L284.03,75.98 L284.65,76.00 L285.26,76.02 L285.88,76.04 L286.50,76.06 L287.12,76.08 L287.73,76.10 L288.35,76.12 L288.97,76.14 L289.59,76.16 L290.20,76.18 L290.82,76.20 L291.44,76.22 L292.06,76.24 L292.67,76.26 L293.29,76.29 L293.91,76.31 L294.53,76.33 L295.14,76.35 L295.76,76.37 L296.38,76.39 L297.00,76.41 L297.61,76.43 L298.23,76.45 L298.85,76.48 L299.47,76.50 L300.08,76.52 L300.70,76.54 L301.32,76.56 L301.94,76.58 L302.55,76.61 L303.17,76.63 L303.79,76.65 L304.41,76.67 L305.02,76.70 L305.64,76.72 L306.26,76.74 L306.88,76.76 L307.49,76.78 L308.11,76.81 L308.73,76.83 L309.34,76.85 L309.96,76.88 L310.58,76.90 L311.20,76.92 L311.81,76.94 L312.43,76.97 L313.05,76.99 L313.67,77.01 L314.28,77.04 L314.90,77.06 L315.52,77.08 L316.14,77.11 L316.75,77.13 L317.37,77.15 L317.99,77.18 L318.60,77.20 L319.22,77.22 L319.84,77.25 L320.46,77.27 L321.07,77.30 L321.69,77.32 L322.31,77.34 L322.93,77.37 L323.54,77.39 L324.16,77.42 L324.78,77.44 L325.39,77.46 L326.01,77.49 L326.63,77.51 L327.25,77.54 L327.86,77.56 L328.48,77.59 L329.10,77.61 L329.72,77.63 L330.33,77.66 L330.95,77.68 L331.57,77.71 L332.18,77.73 L332.80,77.76 L333.42,77.78 L334.04,77.81 L334.65,77.83 L335.27,77.86 L335.89,77.88 L336.50,77.91 L337.12,77.93 L337.74,77.96 L338.36,77.98 L338.97,78.01 L339.59,78.03 L340.21,78.06 L340.82,78.08 L341.44,78.11 L342.06,78.14 L342.68,78.16 L343.29,78.19 L343.91,78.21 L344.53,78.24 L345.14,78.26 L345.76,78.29 L346.38,78.31 L347.00,78.34 L347.61,78.37 L348.23,78.39 L348.85,78.42 L349.46,78.44 L350.08,78.47 L350.70,78.50 L351.32,78.52 L351.93,78.55 L352.55,78.57 L353.17,78.60 L353.78,78.62 L354.40,78.65 L355.02,78.68 L355.64,78.70 L356.25,78.73 L356.87,78.76 L357.49,78.78 L358.10,78.81 L358.72,78.83 L359.34,78.86 L359.96,78.89 L360.57,78.91 L361.19,78.94 L361.81,78.97 L362.42,78.99 L363.04,79.02 L363.66,79.04 L364.28,79.07 L364.89,79.10 L365.51,79.12 L366.13,79.15 L366.74,79.18 L367.36,79.20 L367.98,79.23 L368.59,79.26 L369.21,79.28 L369.83,79.31 L370.45,79.34 L371.06,79.36 L371.68,79.39 L372.30,79.42 L372.91,79.44 L373.53,79.47 L374.15,79.50 L374.77,79.52 L375.38,79.55 L376.00,79.57 L376.62,79.60 L377.23,79.63 L377.85,79.65 L378.47,79.68 L379.08,79.71 L379.70,79.73 L380.32,79.76 L380.94,79.79 L381.55,79.81 L382.17,79.84 L382.79,79.87 L383.40,79.89 L384.02,79.92 L384.64,79.95 L385.26,79.97 L385.87,80.00 L386.49,80.03 L387.11,80.05 L387.72,80.08 L388.34,80.11 L388.96,80.13 L389.57,80.16 L390.19,80.19 L390.81,80.21 L391.43,80.24 L392.04,80.27 L392.66,80.29 L393.28,80.32 L393.89,80.35 L394.51,80.37 L395.13,80.40 L395.75,80.43 L396.36,80.45 L396.98,80.48 L397.60,80.51 L398.21,80.53 L398.83,80.56 L399.45,80.59 L400.06,80.61 L400.68,80.64 L401.30,80.66 L401.92,80.69 L402.53,80.72 L403.15,80.74 L403.77,80.77 L404.38,80.80 L405.00,80.82 L405.62,80.85 L406.24,80.88 L406.85,80.90 L407.47,80.93 L408.09,80.95 L408.70,80.98 L409.32,81.01 L409.94,81.03 L410.55,81.06 L411.17,81.08 L411.79,81.11 L412.41,81.14 L413.02,81.16 L413.64,81.19 L414.26,81.21 L414.87,81.24 L415.49,81.27 L416.11,81.29 L416.73,81.32 L417.34,81.34 L417.96,81.37 L418.58,81.40 L419.19,81.42 L419.81,81.45 L420.43,81.47 L421.05,81.50 L421.66,81.52 L422.28,81.55 L422.90,81.58 L423.51,81.60 L424.13,81.63 L424.75,81.65 L425.36,81.68 L425.98,81.70 L426.60,81.73 L427.22,81.75 L427.83,81.78 L428.45,81.80 L429.07,81.83 L429.68,81.85 L430.30,81.88 L430.92,81.90 L431.54,81.93 L432.15,81.95 L432.77,81.98 L433.39,82.00 L434.00,82.03 L434.62,82.05 L435.24,82.08 L435.86,82.10 L436.47,82.13 L437.09,82.15 L437.71,82.18 L438.32,82.20 L438.94,82.22 L439.56,82.25 L440.18,82.27 L440.79,82.30 L441.41,82.32 L442.03,82.35 L442.65,82.37 L443.26,82.39 L443.88,82.42 L444.50,82.44 L445.11,82.47 L445.73,82.49 L446.35,82.51 L446.97,82.54 L447.58,82.56 L448.20,82.58 L448.82,82.61 L449.43,82.63 L450.05,82.65 L450.67,82.68 L451.29,82.70 L451.90,82.72 L452.52,82.75 L453.14,82.77 L453.76,82.79 L454.37,82.82 L454.99,82.84 L455.61,82.86 L456.22,82.88 L456.84,82.91 L457.46,82.93 L458.08,82.95 L458.69,82.98 L459.31,83.00 L459.93,83.02 L460.55,83.04 L461.16,83.06 L461.78,83.09 L462.40,83.11 L463.01,83.13 L463.63,83.15 L464.25,83.17 L464.87,83.20 L465.48,83.22 L466.10,83.24 L466.72,83.26 L467.34,83.28 L467.95,83.30 L468.57,83.33 L469.19,83.35 L469.81,83.37 L470.42,83.39 L471.04,83.41 L471.66,83.43 L472.27,83.45 L472.89,83.47 L473.51,83.49 L474.13,83.51 L474.74,83.53 L475.36,83.56 L475.98,83.58 L476.60,83.60 L477.21,83.62 L477.83,83.64 L478.45,83.66 L479.07,83.68 L479.68,83.70 L480.30,83.72 L480.92,83.74 L481.54,83.76 L482.15,83.78 L482.77,83.79 L483.39,83.81 L484.01,83.83 L484.62,83.85 L485.24,83.87 L485.86,83.89 L486.48,83.91 L487.09,83.93 L487.71,83.95 L488.33,83.97 L488.95,83.98 L489.56,84.00 L490.18,84.02 L490.80,84.04 L491.42,84.06 L492.03,84.08 L492.65,84.09 L493.27,84.11 L493.89,84.13 L494.50,84.15 L495.12,84.16 L495.74,84.18 L496.36,84.20 L496.97,84.22 L497.59,84.23 L498.21,84.25 L498.83,84.27 L499.45,84.28 L500.06,84.30 L500.68,84.32 L501.30,84.33 L501.92,84.35 L502.53,84.37 L503.15,84.38 L503.77,84.40 L504.39,84.41 L505.00,84.43" stroke="#00ff00"/>
<path d="M63.64,8.03 L63.66,8.94 L63.68,9.85 L63.70,10.76 L63.72,11.67 L63.74,12.58 L63.76,13.49 L63.78,14.41 L63.80,15.32 L63.82,16.23 L63.85,17.14 L63.87,18.06 L63.89,18.97 L63.91,19.88 L63.94,20.79 L63.96,21.71 L63.99,22.62 L64.01,23.53 L64.03,24.45 L64.06,25.36 L64.08,26.27 L64.11,27.19 L64.14,28.10 L64.16,29.02 L64.19,29.93 L64.22,30.84 L64.24,31.76 L64.27,32.67 L64.30,33.59 L64.33,34.50 L64.35,35.42 L64.38,36.33 L64.41,37.25 L64.44,38.16 L64.47,39.07 L64.50,39.99 L64.53,40.90 L64.56,41.82 L64.59,42.73 L64.62,43.65 L64.66,44.57 L64.69,45.48 L64.72,46.40 L64.75,47.31 L64.78,48.23 L64.82,49.14 L64.85,50.06 L64.88,50.97 L64.92,51.89 L64.95,52.81 L64.99,53.72 L65.02,54.64 L65.06,55.55 L65.09,56.47 L65.13,57.39 L65.16,58.30 L65.20,59.22 L65.23,60.13 L65.27,61.05 L65.31,61.97 L65.35,62.88 L65.38,63.80 L65.42,64.72 L65.46,65.63 L65.50,66.55 L65.54,67.47 L65.57,68.38 L65.61,69.30 L65.65,70.22 L65.69,71.13 L65.73,72.05 L65.77,72.97 L65.81,73.88 L65.86,74.80 L65.90,75.72 L65.94,76.63 L65.98,77.55 L66.02,78.47 L66.06,79.38 L66.11,80.30 L66.15,81.22 L66.19,82.13 L66.24,83.05 L66.28,83.97 L66.32,84.88 L66.37,85.80 L66.41,86.72 L66.46,87.63 L66.50,88.55 L66.55,89.47 L66.59,90.38 L66.64,91.30 L66.68,92.22 L66.73,93.13 L66.78,94.05 L66.82,94.97 L66.87,95.88 L66.92,96.80 L66.97,97.72 L67.02,98.63 L67.06,99.55 L67.11,100.46 L67.16,101.38 L67.21,102.30 L67.26,103.21 L67.31,104.13 L67.36,105.05 L67.41,105.96 L67.46,106.88 L67.51,107.80 L67.56,108.71 L67.61,109.63 L67.66,110.54 L67.71,111.46 L67.77,112.37 L67.82,113.29 L67.87,114.21 L67.92,115.12 L67.98,116.04 L68.03,116.95 L68.08,117.87 L68.14,118.78 L68.19,119.70 L68.24,120.62 L68.30,121.53 L68.35,122.45 L68.41,123.36 L68.46,124.28 L68.52,125.19 L68.57,126.11 L68.63,127.02 L68.69,127.93 L68.74,128.85 L68.80,129.76 L68.86,130.68 L68.91,131.59 L68.97,132.51 L69.03,133.42 L69.09,134.34 L69.14,135.25 L69.20,136.16 L69.26,137.08 L69.32,137.99 L69.38,138.90 L69.44,139.82 L69.50,140.73 L69.56,141.64 L69.62,142.56 L69.68,143.47 L69.74,144.38 L69.80,145.30 L69.86,146.21 L69.92,147.12 L69.98,148.03 L70.04,148.95 L70.10,149.86 L70.17,150.77 L70.23,151.68 L70.29,152.60 L70.35,153.51 L70.42,154.42 L70.48,155.33 L70.54,156.24 L70.61,157.15 L70.67,158.06 L70.74,158.97 L70.80,159.89 L70.86,160.80 L70.93,161.71 L70.99,162.62 L71.06,163.53 L71.13,164.44 L71.19,165.35 L71.26,166.26 L71.33,167.17 L71.40,168.08 L71.47,168.99 L71.54,169.89 L71.61,170.80 L71.68,171.71 L71.75,172.62 L71.83,173.53 L71.90,174.44 L71.98,175.35 L72.06,176.26 L72.14,177.16 L72.22,178.07 L72.30,178.98 L72.39,179.89 L72.47,180.79 L72.56,181.70 L72.65,182.61 L72.74,183.52 L72.83,184.42 L72.93,185.33 L73.02,186.24 L73.12,187.14 L73.23,188.05 L73.33,188.96 L73.44,189.86 L73.54,190.77 L73.65,191.67 L73.77,192.58 L73.88,193.49 L74.00,194.39 L74.12,195.30 L74.25,196.20 L74.37,197.11 L74.50,198.01 L74.64,198.92 L74.77,199.82 L74.91,200.72 L75.05,201.63 L75.20,202.53 L75.35,203.44 L75.50,204.34 L75.66,205.24 L75.81,206.15 L75.98,207.05 L76.14,207.96 L76.31,208.86 L76.49,209.76 L76.66,210.66 L76.85,211.57 L77.03,212.47 L77.22,213.37 L77.41,214.27 L77.61,215.18 L77.81,216.08 L78.02,216.98 L78.23,217.88 L78.44,218.78 L78.66,219.69 L78.89,220.59 L79.12,221.49 L79.35,222.39 L79.59,223.29 L79.83,224.19 L80.08,225.09 L80.33,225.99 L80.59,226.89 L80.85,227.79 L81.12,228.69 L81.39,229.59 L81.67,230.49 L81.95,231.39 L82.24,232.29 L82.53,233.19 L82.83,234.09 L83.14,234.99 L83.45,235.89 L83.77,236.79 L84.10,237.68 L84.44,238.56 L84.80,239.42 L85.17,240.27 L85.56,241.10 L85.97,241.91 L86.41,242.69 L86.88,243.45 L87.37,244.17 L87.89,244.85 L88.45,245.49 L89.05,246.09 L89.68,246.64 L90.35,247.14 L91.07,247.59 L91.82,247.98 L92.59,248.28 L93.39,248.51 L94.19,248.63 L95.00,248.64 L95.80,248.56 L96.60,248.37 L97.40,248.10 L98.19,247.75 L98.97,247.33 L99.74,246.84 L100.50,246.30 L101.24,245.72 L101.98,245.09 L102.70,244.44 L103.40,243.76 L104.08,243.08 L104.74,242.38 L105.38,241.68 L106.01,240.98 L106.62,240.27 L107.21,239.56 L107.80,238.84 L108.37,238.12 L108.93,237.40 L109.49,236.68 L110.05,235.95 L110.60,235.22 L111.14,234.49 L111.68,233.75 L112.22,233.01 L112.76,232.27 L113.29,231.52 L113.81,230.78 L114.34,230.03 L114.86,229.27 L115.37,228.52 L115.89,227.76 L116.40,227.00 L116.91,226.24 L117.41,225.47 L117.91,224.71 L118.41,223.94 L118.91,223.17 L119.40,222.40 L119.89,221.62 L120.38,220.85 L120.86,220.07 L121.35,219.29 L121.83,218.51 L122.31,217.73 L122.78,216.94 L123.26,216.16 L123.73,215.37 L124.20,214.58 L124.67,213.79 L125.14,213.00 L125.61,212.21 L126.07,211.42 L126.54,210.63 L127.00,209.83 L127.46,209.04 L127.92,208.24 L128.38,207.45 L128.84,206.65 L129.30,205.85 L129.75,205.06 L130.21,204.26 L130.66,203.46 L131.12,202.66 L131.57,201.86 L132.03,201.06 L132.48,200.26 L132.94,199.47 L133.39,198.67 L133.84,197.87 L134.30,197.07 L134.75,196.27 L135.21,195.47 L135.66,194.68 L136.12,193.88 L136.57,193.08 L137.03,192.29 L137.48,191.49 L137.94,190.70 L138.40,189.91 L138.86,189.11 L139.32,188.32 L139.78,187.53 L140.25,186.74 L140.71,185.96 L141.18,185.17 L141.64,184.38 L142.11,183.60 L142.58,182.82 L143.06,182.04 L143.53,181.26 L144.01,180.48 L144.48,179.70 L144.96,178.93 L145.45,178.15 L145.93,177.38 L146.41,176.61 L146.90,175.84 L147.39,175.08 L147.88,174.31 L148.38,173.55 L148.87,172.78 L149.37,172.02 L149.87,171.26 L150.37,170.50 L150.87,169.75 L151.38,168.99 L151.89,168.24 L152.40,167.49 L152.91,166.74 L153.42,165.99 L153.94,165.24 L154.46,164.49 L154.98,163.75 L155.50,163.00 L156.03,162.26 L156.55,161.52 L157.08,160.78 L157.61,160.04 L158.15,159.31 L158.68,158.57 L159.22,157.84 L159.76,157.11 L160.30,156.37 L160.85,155.64 L161.40,154.92 L161.95,154.19 L162.50,153.46 L163.05,152.74 L163.61,152.02 L164.17,151.29 L164.73,150.57 L165.29,149.85 L165.86,149.13 L166.43,148.42 L167.00,147.70 L167.57,146.99 L168.15,146.27 L168.73,145.56 L169.31,144.85 L169.89,144.14 L170.48,143.43 L171.07,142.73 L171.66,142.02 L172.25,141.31 L172.85,140.61 L173.45,139.91 L174.05,139.21 L174.65,138.51 L175.26,137.81 L175.87,137.11 L176.48,136.41 L177.10,135.72 L177.72,135.03 L178.34,134.34 L178.96,133.65 L179.59,132.97 L180.21,132.28 L180.85,131.60 L181.48,130.92 L182.12,130.25 L182.76,129.58 L183.40,128.91 L184.05,128.24 L184.70,127.58 L185.35,126.92 L186.01,126.26 L186.67,125.61 L187.33,124.96 L188.00,124.32 L188.67,123.68 L189.34,123.04 L190.02,122.41 L190.69,121.78 L191.38,121.16 L192.06,120.54 L192.75,119.92 L193.44,119.31 L194.14,118.71 L194.84,118.11 L195.54,117.52 L196.25,116.93 L196.96,116.34 L197.67,115.77 L198.39,115.20 L199.11,114.63 L199.84,114.07 L200.57,113.52 L201.30,112.97 L202.03,112.43 L202.77,111.89 L203.52,111.37 L204.26,110.84 L205.02,110.33 L205.77,109.82 L206.53,109.32 L207.29,108.82 L208.06,108.34 L208.83,107.85 L209.60,107.38 L210.38,106.91 L211.16,106.45 L211.94,105.99 L212.73,105.54 L213.52,105.10 L214.31,104.66 L215.11,104.22 L215.91,103.80 L216.71,103.38 L217.52,102.96 L218.33,102.56 L219.14,102.15 L219.96,101.76 L220.77,101.37 L221.59,100.98 L222.42,100.60 L223.24,100.23 L224.07,99.86 L224.91,99.50 L225.74,99.14 L226.58,98.79 L227.42,98.44 L228.26,98.10 L229.10,97.76 L229.95,97.43 L230.80,97.11 L231.65,96.79 L232.51,96.47 L233.36,96.16 L234.22,95.86 L235.08,95.56 L235.95,95.26 L236.81,94.97 L237.68,94.68 L238.55,94.40 L239.42,94.13 L240.29,93.86 L241.16,93.59 L242.04,93.33 L242.92,93.07 L243.80,92.82 L244.68,92.57 L245.56,92.32 L246.45,92.08 L247.33,91.85 L248.22,91.62 L249.11,91.39 L250.00,91.17 L250.89,90.95 L251.78,90.73 L252.68,90.52 L253.57,90.31 L254.47,90.11 L255.37,89.91 L256.26,89.72 L257.16,89.52 L258.06,89.34 L258.97,89.15 L259.87,88.97 L260.77,88.80 L261.68,88.62 L262.58,88.45 L263.49,88.29 L264.39,88.12 L265.30,87.96 L266.21,87.81 L267.11,87.66 L268.02,87.51 L268.93,87.36 L269.84,87.22 L270.75,87.08 L271.66,86.94 L272.57,86.80 L273.48,86.67 L274.39,86.54 L275.30,86.42 L276.21,86.30 L277.12,86.18 L278.03,86.06 L278.94,85.95 L279.85,85.83 L280.76,85.73 L281.68,85.62 L282.59,85.52 L283.50,85.41 L284.41,85.32 L285.32,85.22 L286.23,85.13 L287.14,85.04 L288.06,84.95 L288.97,84.86 L289.88,84.78 L290.79,84.70 L291.71,84.62 L292.62,84.54 L293.53,84.47 L294.44,84.40 L295.36,84.33 L296.27,84.26 L297.18,84.20 L298.10,84.13 L299.01,84.07 L299.92,84.01 L300.84,83.96 L301.75,83.90 L302.66,83.85 L303.58,83.80 L304.49,83.75 L305.40,83.70 L306.32,83.66 L307.23,83.62 L308.14,83.57 L309.06,83.54 L309.97,83.50 L310.89,83.46 L311.80,83.43 L312.72,83.40 L313.63,83.37 L314.54,83.34 L315.46,83.31 L316.37,83.28 L317.29,83.26 L318.20,83.24 L319.12,83.22 L320.03,83.20 L320.95,83.18 L321.86,83.16 L322.78,83.15 L323.69,83.13 L324.61,83.12 L325.52,83.11 L326.44,83.10 L327.35,83.09 L328.27,83.08 L329.18,83.08 L330.10,83.07 L331.01,83.07 L331.93,83.06 L332.85,83.06 L333.76,83.06 L334.68,83.06 L335.59,83.06 L336.51,83.07 L337.42,83.07 L338.34,83.07 L339.26,83.08 L340.17,83.08 L341.09,83.09 L342.00,83.10 L342.92,83.11 L343.83,83.12 L344.75,83.13 L345.67,83.14 L346.58,83.15 L347.50,83.16 L348.41,83.17 L349.33,83.19 L350.25,83.20 L351.16,83.21 L352.08,83.23 L352.99,83.24 L353.91,83.26 L354.82,83.27 L355.74,83.29 L356.66,83.31 L357.57,83.32 L358.49,83.34 L359.40,83.36 L360.32,83.38 L361.24,83.40 L362.15,83.41 L363.07,83.43 L363.98,83.45 L364.90,83.47 L365.82,83.49 L366.73,83.51 L367.65,83.53 L368.56,83.55 L369.48,83.57 L370.40,83.59 L371.31,83.61 L372.23,83.63 L373.14,83.65 L374.06,83.67 L374.97,83.69 L375.89,83.71 L376.81,83.73 L377.72,83.75 L378.64,83.77 L379.55,83.79 L380.47,83.81 L381.38,83.83 L382.30,83.85 L383.22,83.88 L384.13,83.90 L385.05,83.92 L385.96,83.94 L386.88,83.96 L387.79,83.99 L388.71,84.01 L389.63,84.03 L390.54,84.05 L391.46,84.08 L392.37,84.10 L393.29,84.12 L394.20,84.14 L395.12,84.17 L396.04,84.19 L396.95,84.21 L397.87,84.24 L398.78,84.26 L399.70,84.28 L400.61,84.31 L401.53,84.33 L402.45,84.35 L403.36,84.38 L404.28,84.40 L405.19,84.42 L406.11,84.45 L407.02,84.47 L407.94,84.50 L408.85,84.52 L409.77,84.54 L410.69,84.57 L411.60,84.59 L412.52,84.62 L413.43,84.64 L414.35,84.66 L415.26,84.69 L416.18,84.71 L417.09,84.74 L418.01,84.76 L418.93,84.78 L419.84,84.81 L420.76,84.83 L421.67,84.86 L422.59,84.88 L423.50,84.91 L424.42,84.93 L425.34,84.95 L426.25,84.98 L427.17,85.00 L428.08,85.03 L429.00,85.05 L429.91,85.08 L430.83,85.10 L431.74,85.12 L432.66,85.15 L433.58,85.17 L434.49,85.20 L435.41,85.22 L436.32,85.24 L437.24,85.27 L438.15,85.29 L439.07,85.32 L439.98,85.34 L440.90,85.36 L441.82,85.39 L442.73,85.41 L443.65,85.43 L444.56,85.46 L445.48,85.48 L446.39,85.51 L447.31,85.53 L448.22,85.55 L449.14,85.58 L450.06,85.60 L450.97,85.62 L451.89,85.65 L452.80,85.67 L453.72,85.69 L454.63,85.71 L455.55,85.74 L456.46,85.76 L457.38,85.78 L458.30,85.81 L459.21,85.83 L460.13,85.85 L461.04,85.87 L461.96,85.89 L462.87,85.92 L463.79,85.94 L464.71,85.96 L465.62,85.98 L466.54,86.00 L467.45,86.02 L468.37,86.05 L469.28,86.07 L470.20,86.09 L471.12,86.11 L472.03,86.13 L472.95,86.15 L473.86,86.17 L474.78,86.19 L475.69,86.21 L476.61,86.23 L477.53,86.25 L478.44,86.27 L479.36,86.29 L480.27,86.31 L481.19,86.33 L482.10,86.35 L483.02,86.37 L483.94,86.39 L484.85,86.41 L485.77,86.42 L486.68,86.44 L487.60,86.46 L488.51,86.48 L489.43,86.50 L490.35,86.51 L491.26,86.53 L492.18,86.55 L493.09,86.57 L494.01,86.58 L494.93,86.60 L495.84,86.62 L496.76,86.63 L497.67,86.65 L498.59,86.66 L499.51,86.68 L500.42,86.70 L501.34,86.71 L502.25,86.73 L503.17,86.74 L504.09,86.76 L505.00,86.77" stroke="#ff8080"/>
</g>
<circle cx="94.35" cy="249.75" r="3.6" fill="#000"/>
<circle cx="122.7" cy="98.6" r="3.6" fill="#000"/>
<circle cx="134.8" cy="81.6" r="3.6" fill="#000"/>
<circle cx="144.7" cy="66.7" r="3.6" fill="#000"/>
<path d="M51.50,297.1 v-2.3 M70.10,297.1 v-1.3 M88.70,297.1 v-1.3 M107.29,297.1 v-1.3 M125.89,297.1 v-2.3 M144.49,297.1 v-1.3 M163.09,297.1 v-1.3 M181.69,297.1 v-1.3 M200.28,297.1 v-2.3 M218.88,297.1 v-1.3 M237.48,297.1 v-1.3 M256.08,297.1 v-1.3 M274.68,297.1 v-2.3 M293.27,297.1 v-1.3 M311.87,297.1 v-1.3 M330.47,297.1 v-1.3 M349.07,297.1 v-2.3 M367.66,297.1 v-1.3 M386.26,297.1 v-1.3 M404.86,297.1 v-1.3 M423.46,297.1 v-2.3 M442.06,297.1 v-1.3 M460.65,297.1 v-1.3 M479.25,297.1 v-1.3 M497.85,297.1 v-2.3 M51.5,289.04 h1.4 M51.5,273.12 h1.4 M51.5,257.20 h2.5 M51.5,241.28 h1.4 M51.5,225.36 h1.4 M51.5,209.44 h1.4 M51.5,193.52 h1.4 M51.5,177.60 h2.5 M51.5,161.68 h1.4 M51.5,145.76 h1.4 M51.5,129.84 h1.4 M51.5,113.92 h1.4 M51.5,98.00 h2.5 M51.5,82.08 h1.4 M51.5,66.16 h1.4 M51.5,50.24 h1.4 M51.5,34.32 h1.4 M51.5,18.40 h2.5" stroke="#333" stroke-width="0.85" fill="none"/>
<rect x="51.5" y="18.5" width="446.35" height="278.6" fill="none" stroke="#333" stroke-width="1"/>
<rect x="18.9" y="178.60" width="8.9" height="1.0" fill="#000"/>
<rect x="18.9" y="258.20" width="8.9" height="1.0" fill="#000"/>
<text x="51.85" y="313.4" text-anchor="middle">0</text>
<text x="126.24" y="313.4" text-anchor="middle">2</text>
<text x="200.63" y="313.4" text-anchor="middle">4</text>
<text x="275.03" y="313.4" text-anchor="middle">6</text>
<text x="349.42" y="313.4" text-anchor="middle">8</text>
<text x="423.81" y="313.4" text-anchor="middle">10</text>
<text x="498.20" y="313.4" text-anchor="middle">12</text>
<text x="49.5" y="24.10" text-anchor="end">0.5</text>
<text x="50.4" y="103.70" text-anchor="end">0.0</text>
<text x="49.5" y="183.30" text-anchor="end">0.5</text>
<text x="50.4" y="262.90" text-anchor="end">1.0</text>
<text transform="translate(256.3,12) scale(1.09,1)" style="font-style:italic">α</text><rect x="271" y="5.2" width="9.1" height="1.05" fill="#000"/><rect x="271" y="9.0" width="9.1" height="1.05" fill="#000"/><text x="285.5" y="12">1</text>
<text x="274.9" y="334.9" text-anchor="middle" style="font-family:'Liberation Sans',sans-serif;font-style:italic;font-size:15px">κ</text>
<g transform="translate(12,175) rotate(-90)"><text x="0" y="0" style="font-style:italic">F</text><text x="9.65" y="1.9" style="font-style:italic;font-size:12px">R</text><text x="16.95" y="-0.7" style="font-size:14.8px" textLength="6.6" lengthAdjust="spacingAndGlyphs">(</text><text x="22.6" y="0" style="font-family:'Liberation Sans',sans-serif;font-style:italic;font-size:15px">κ</text><text x="29.05" y="-0.7" style="font-size:14.8px" textLength="6.6" lengthAdjust="spacingAndGlyphs">)</text></g>
<text x="469.1" y="214.75" style="font-size:15.7px;fill:#ff0000" textLength="6.0" lengthAdjust="spacingAndGlyphs">(</text><text transform="translate(474.4,214.9) scale(1.19,1)" style="font-style:italic;fill:#ff0000">d</text><text x="483.25" y="214.75" style="font-size:15.7px;fill:#ff0000" textLength="6.0" lengthAdjust="spacingAndGlyphs">)</text>
<text x="469.9" y="238.75" style="font-size:15.7px;fill:#0000ff" textLength="6.0" lengthAdjust="spacingAndGlyphs">(</text><text transform="translate(475.5,238.9) scale(1.07,1)" style="font-style:italic;fill:#0000ff">c</text><text x="482.6" y="238.75" style="font-size:15.7px;fill:#0000ff" textLength="6.0" lengthAdjust="spacingAndGlyphs">)</text>
<text x="469.45" y="262.75" style="font-size:15.7px;fill:#00ff00" textLength="6.0" lengthAdjust="spacingAndGlyphs">(</text><text transform="translate(474.5,262.9) scale(1.155,1)" style="font-style:italic;fill:#00ff00">b</text><text x="483.15" y="262.75" style="font-size:15.7px;fill:#00ff00" textLength="6.0" lengthAdjust="spacingAndGlyphs">)</text>
<text x="469.45" y="286.75" style="font-size:15.7px;fill:#ff8080" textLength="6.0" lengthAdjust="spacingAndGlyphs">(</text><text transform="translate(474.4,286.9) scale(1.22,1)" style="font-style:italic;fill:#ff8080">a</text><text x="483.15" y="286.75" style="font-size:15.7px;fill:#ff8080" textLength="6.0" lengthAdjust="spacingAndGlyphs">)</text>
</svg>
</body></html>
